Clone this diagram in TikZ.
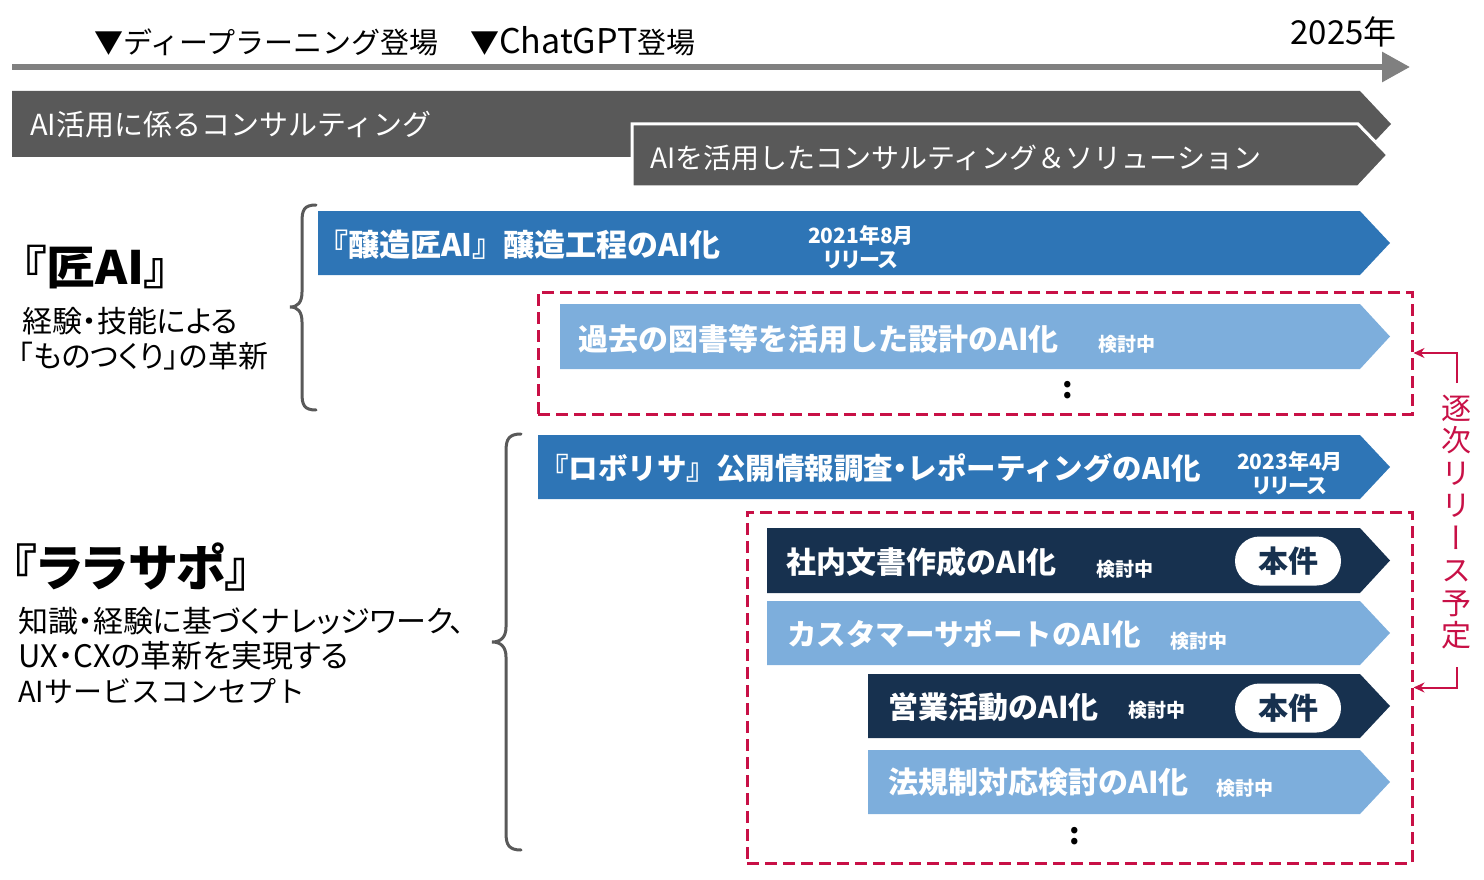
\documentclass[tikz,border=0pt]{standalone}
\usepackage{fontspec}
\setmainfont{Noto Sans CJK JP}
\newfontfamily\jpprop{Noto Sans CJK JP}[RawFeature=+palt]
\newfontfamily\jpvert{Noto Sans CJK JP}[RawFeature=+vert]
\usetikzlibrary{arrows.meta,shapes.misc}
\definecolor{dgray}{HTML}{595959}
\definecolor{tlgray}{HTML}{808080}
\definecolor{mblue}{HTML}{2E75B6}
\definecolor{lblue}{HTML}{7DAEDC}
\definecolor{navy}{HTML}{17314F}
\definecolor{crim}{RGB}{200,16,70}
\newcommand\chevbar[4]{\fill[#4] (#1,#2) -- (1360,#2) -- (1390,{(#2+#3)/2}) -- (1360,#3) -- (#1,#3) -- cycle;}
\begin{document}
\begin{tikzpicture}[x=1pt,y=-1pt,
  txt/.style={inner sep=0pt, anchor=base west},
  lbl/.style={txt, yshift=-11pt, font=\fontsize{29}{34}\selectfont},
  plbl/.style={txt, yshift=-11.4pt, font=\fontsize{30}{34}\selectfont\jpprop},
  gtxt/.style={txt, yshift=-11pt, text=white, font=\fontsize{29}{34}\selectfont},
  btxt/.style={txt, yshift=-11.4pt, text=white, font=\fontsize{30}{34}\selectfont\bfseries},
  stxt/.style={txt, yshift=-7.2pt, text=white, font=\fontsize{19}{22}\selectfont\bfseries},
  rel/.style={inner sep=0pt, text=white, align=center, font=\fontsize{21}{24}\selectfont\bfseries\jpprop},
  pill/.style={rounded rectangle, fill=white, text=navy, minimum width=106pt, minimum height=49pt, inner sep=0pt, font=\fontsize{30}{34}\selectfont\bfseries},
  dbox/.style={draw=crim, line width=3pt, dash pattern=on 12pt off 6pt, inner sep=0pt},
  brace/.style={draw=dgray, line width=3pt, line cap=round},
  redarrow/.style={draw=crim, line width=2pt, -{Stealth[length=11pt,width=10pt]}},
  dots/.style={inner sep=0pt, font=\fontsize{30}{34}\selectfont\bfseries}
]
\useasboundingbox (0,0) rectangle (1484,880);
% timeline
\coordinate (t0) at (12,67);
\coordinate (t1) at (1410,67);
\draw[line width=6pt, tlgray, -{Triangle[length=28pt,width=29pt]}] (t0) -- (t1);
\node[lbl] (dl) at (94,43) {▼ディープラーニング登場};
\node[lbl] (cg) at (470,43) {▼{\fontsize{34}{36}\selectfont ChatGPT}登場};
\node[lbl, anchor=base east, yshift=-1pt, font=\fontsize{33}{36}\selectfont] (y25) at (1397,33) {2025年};
% gray bars
\fill[dgray] (12,91) -- (1360,91) -- (1391,124) -- (1360,157) -- (12,157) -- cycle;
\filldraw[fill=dgray, draw=white, line width=3pt] (632,124) -- (1358,124) -- (1388,155) -- (1358,187) -- (632,187) -- cycle;
\node[gtxt] (g1) at (30,125) {AI活用に係るコンサルティング};
\node[gtxt, font=\fontsize{28}{34}\selectfont] (g2) at (650,158) {AIを活用したコンサルティング＆ソリューション};
% left titles
\node[txt, yshift=-17.5pt, font=\fontsize{46}{50}\selectfont\bfseries\jpprop] (takumi) at (22,267) {\scalebox{1.06}[1]{『匠AI』}};
\node[plbl] (tk1) at (22,321) {経験・技能による};
\node[plbl] (tk2) at (18,356) {「ものつくり」の革新};
\node[txt, yshift=-19pt, font=\fontsize{50}{54}\selectfont\bfseries\jpprop] (lala) at (12,567) {『ララサポ』};
\node[plbl] (ll1) at (18,621) {知識・経験に基づくナレッジワーク、};
\node[plbl, yshift=-0.4pt, font=\fontsize{31}{34}\selectfont\jpprop] (ll2) at (18,656) {UX・CXの革新を実現する};
\node[lbl] (ll3) at (18,691) {AIサービスコンセプト};
% braces
\draw[brace] (316,205) .. controls (304,205) and (302,210) .. (302,222) -- (302,292) .. controls (302,302) and (298,307) .. (290,307) .. controls (298,307) and (302,312) .. (302,322) -- (302,393) .. controls (302,405) and (304,410) .. (316,410);
\draw[brace] (521,434) .. controls (509,434) and (506,439) .. (506,451) -- (506,627) .. controls (506,637) and (501,642) .. (492,642) .. controls (501,642) and (506,647) .. (506,657) -- (506,833) .. controls (506,845) and (509,850) .. (521,850);
% dashed boxes
\node[dbox, minimum width=874pt, minimum height=122pt] (box1) at (975,353) {};
\node[dbox, minimum width=665pt, minimum height=351pt] (box2) at (1079.5,687.5) {};
% blue bars
\chevbar{318}{211}{275}{mblue}
\node[btxt, yshift=-0.4pt, font=\fontsize{31}{34}\selectfont\bfseries] (jozo) at (317,245) {『醸造匠AI』醸造工程のAI化};
\node[rel] (r21) at (861,247) {2021年8月\\リリース};
\chevbar{560}{304}{369}{lblue}
\node[btxt] (kako) at (578,339) {過去の図書等を活用した設計のAI化};
\node[stxt] (k1) at (1098,344) {検討中};
\node[dots] (d1) at (1068,390) {:};
\chevbar{538}{435}{499}{mblue}
\node[btxt, yshift=0.2pt, font=\fontsize{29.5}{34}\selectfont\bfseries] (robo) at (539,468) {『ロボリサ』公開情報調査{\jpprop ・}レポーティングのAI化};
\node[rel] (r23) at (1290,473) {2023年4月\\リリース};
\chevbar{767}{528}{593}{navy}
\node[btxt] (shanai) at (786,562) {社内文書作成のAI化};
\node[stxt] (k2) at (1096,569) {検討中};
\node[pill] (p1) at (1288,561) {本件};
\chevbar{767}{601}{665}{lblue}
\node[btxt, font=\fontsize{29.5}{34}\selectfont\bfseries] (cs) at (787,634) {カスタマーサポートのAI化};
\node[stxt] (k3) at (1170,641) {検討中};
\chevbar{868}{674}{738}{navy}
\node[btxt] (eigyo) at (888,707) {営業活動のAI化};
\node[stxt] (k4) at (1128,710) {検討中};
\node[pill] (p2) at (1288,708) {本件};
\chevbar{868}{750}{814}{lblue}
\node[btxt] (hoki) at (888,782) {法規制対応検討のAI化};
\node[stxt] (k5) at (1216,788) {検討中};
\node[dots] (d2) at (1075,836) {:};
% right label
\node[inner sep=0pt, text=crim, align=center, font=\jpvert\fontsize{30}{32.5}\selectfont] (vt) at (1456,522) {逐\\次\\リ\\リ\\ー\\ス\\予\\定};
\coordinate (v1) at (1457,383);
\coordinate (v2) at (1457,667);
\draw[redarrow] (v1) |- (box1.east);
\draw[redarrow] (v2) |- (box2.east);
\end{tikzpicture}
\end{document}
